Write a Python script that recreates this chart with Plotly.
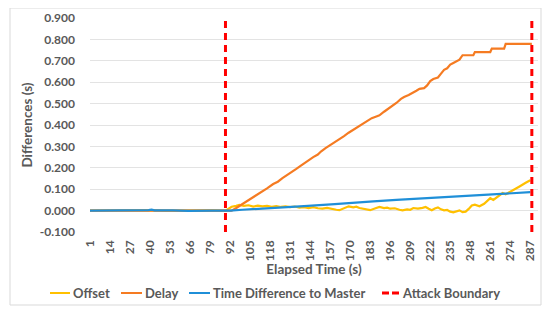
import plotly.graph_objects as go

# ---- data ----
tick_labels = [1, 14, 27, 40, 53, 66, 79, 92, 105, 118, 131, 144, 157, 170, 183, 196,
               209, 222, 235, 248, 261, 274, 287]
y_ticks = [-0.1, 0.0, 0.1, 0.2, 0.3, 0.4, 0.5, 0.6, 0.7, 0.8, 0.9]

offset_t = [1, 10, 20, 30, 40, 50, 60, 70, 80, 89, 91, 93, 96, 98, 101, 104, 107, 110, 113,
            116, 119, 122, 125, 128, 131, 134, 137, 140, 143, 146, 149, 152, 155, 158, 161,
            163, 166, 169, 172, 174, 176, 179, 181, 183, 186, 189, 192, 194, 196, 199, 202,
            204, 207, 209, 211, 214, 217, 219, 221, 223, 225, 227, 229, 231, 233, 235, 237,
            239, 241, 243, 245, 247, 249, 251, 254, 257, 259, 261, 263, 265, 267, 269, 271,
            273, 276, 280, 284, 287]
offset_v = [0.000, 0.001, -0.001, 0.001, 0.002, 0.000, 0.001, -0.001, 0.001, 0.000, 0.008,
            0.018, 0.022, 0.027, 0.022, 0.025, 0.019, 0.023, 0.020, 0.022, 0.018, 0.021,
            0.017, 0.020, 0.016, 0.019, 0.014, 0.016, 0.012, 0.016, 0.011, 0.009, 0.013,
            0.007, 0.004, 0.002, 0.010, 0.020, 0.015, 0.018, 0.012, 0.009, 0.005, 0.002,
            0.010, 0.017, 0.012, 0.014, 0.009, 0.011, 0.004, 0.001, 0.006, 0.004, 0.012,
            0.009, 0.013, 0.017, 0.009, 0.002, 0.010, 0.015, 0.006, 0.001, 0.003, -0.005,
            -0.008, -0.004, 0.001, -0.007, -0.005, 0.008, 0.024, 0.028, 0.020, 0.032, 0.045,
            0.058, 0.050, 0.061, 0.070, 0.082, 0.076, 0.085, 0.095, 0.113, 0.130, 0.142]

delay_t = [1, 92, 93, 96, 100, 104, 108, 112, 116, 120, 123, 126, 129, 132, 135, 138, 141,
           143, 146, 149, 151, 154, 157, 160, 163, 166, 169, 172, 175, 178, 181, 184, 187,
           189, 192, 195, 198, 200, 203, 205, 208, 211, 213, 215, 218, 220, 222, 224, 227,
           229, 231, 233, 235, 237, 239, 241, 243, 250, 251, 261, 262, 270, 271, 288]
delay_v = [0.000, 0.000, 0.000, 0.012, 0.030, 0.047, 0.066, 0.085, 0.104, 0.124, 0.135,
           0.152, 0.165, 0.182, 0.195, 0.210, 0.226, 0.238, 0.250, 0.262, 0.276, 0.292,
           0.305, 0.322, 0.335, 0.348, 0.364, 0.378, 0.394, 0.408, 0.420, 0.432, 0.440,
           0.445, 0.462, 0.477, 0.490, 0.503, 0.522, 0.531, 0.540, 0.550, 0.560, 0.569,
           0.572, 0.585, 0.605, 0.615, 0.622, 0.640, 0.658, 0.665, 0.682, 0.690, 0.697,
           0.705, 0.726, 0.726, 0.741, 0.741, 0.757, 0.757, 0.779, 0.779]

master_t = [1, 15, 25, 39, 41, 43, 55, 65, 80, 92, 100, 108, 120, 140, 160, 170, 185, 200,
            220, 250, 270, 287]
master_v = [0.000, 0.001, -0.001, 0.002, 0.004, 0.001, 0.001, -0.001, 0.000, 0.000, 0.004,
            0.007, 0.012, 0.021, 0.030, 0.034, 0.043, 0.050, 0.058, 0.070, 0.078, 0.086]

attack_t = [89, 288]
y_span = [-0.1, 0.9]

series_names = ["Offset", "Delay", "Time Difference to Master", "Attack Boundary"]
series_colors = ["#FFC000", "#F57B22", "#1F8FD8", "#FF0000"]

# ---- figure ----
TXT = "#595959"
FONT = dict(family="Lato", size=12, color=TXT, weight="bold")
FONT_T = dict(family="Lato", size=13.5, color=TXT, weight="bold")
FONT_L = dict(family="Lato", size=13, color=TXT, weight="bold")

fig = go.Figure()
for name, col, xs, ys in [(series_names[0], series_colors[0], offset_t, offset_v),
                          (series_names[1], series_colors[1], delay_t, delay_v),
                          (series_names[2], series_colors[2], master_t, master_v)]:
    fig.add_trace(go.Scatter(x=xs, y=ys, mode="lines", name=name, showlegend=False,
                             line=dict(color=col, width=2.2)))
bx, by = [], []
for t in attack_t:
    bx += [t, t, None]
    by += [y_span[0], y_span[1], None]
fig.add_trace(go.Scatter(x=bx, y=by, mode="lines", name=series_names[3], showlegend=False,
                         line=dict(color=series_colors[3], width=3, dash="7px,5px")))

# page has an 8px body margin: work in page pixels and shift
OFF = 8
W, H = 550, 320
PL, PR, PT, PB = 90, 538, 18, 232          # plot area in page pixels
L, T = PL - OFF, PT - OFF
R, B = W - (PR - OFF), H - (PB - OFF)
pw, ph = W - L - R, H - T - B

def px_x(p):
    return (p - PL) / pw

def px_y(p):
    return (PB - p) / ph

shapes = [dict(type="rect", xref="paper", yref="paper",
               x0=px_x(10), x1=px_x(541), y0=px_y(305), y1=px_y(8),
               line=dict(color="#D9D9D9", width=1), layer="below")]
annotations = []
# manual legend (bottom, one row)
leg_y = 293
leg_pos = [(50, 70), (121, 142), (189, 210), (382, 399)]
for (x0, x1), name, col in zip(leg_pos, series_names, series_colors):
    is_dash = name == "Attack Boundary"
    shapes.append(dict(type="line", xref="paper", yref="paper",
                       x0=px_x(x0), x1=px_x(x1), y0=px_y(leg_y), y1=px_y(leg_y),
                       line=dict(color=col, width=3 if is_dash else 2,
                                 dash="7px,3px" if is_dash else "solid")))
    annotations.append(dict(xref="paper", yref="paper", x=px_x(x1 + 1), y=px_y(leg_y),
                            xanchor="left", yanchor="middle", text=name, showarrow=False,
                            font=FONT_L))

fig.update_layout(
    width=W, height=H,
    margin=dict(l=L, r=R, t=T, b=B, autoexpand=False),
    paper_bgcolor="white", plot_bgcolor="white",
    font=FONT,
    showlegend=False,
    xaxis=dict(range=[1, 292], tickmode="array", tickvals=tick_labels,
               ticktext=[str(v) for v in tick_labels], tickangle=-90,
               showgrid=False, zeroline=False, showline=False, ticks="",
               ticklabelstandoff=5, automargin=False,
               tickfont=FONT,
               title=dict(text="Elapsed Time (s)", font=FONT_T, standoff=3)),
    yaxis=dict(range=[-0.1, 0.9], tickmode="array", tickvals=y_ticks,
               ticktext=[f"{v:.3f}" for v in y_ticks],
               showgrid=True, gridcolor="#E3E3E3", gridwidth=1,
               zeroline=False, showline=False, ticks="", tickfont=FONT,
               ticklabelstandoff=14, automargin=False,
               title=dict(text="Differences (s)", font=FONT_T, standoff=4)),
    shapes=shapes,
    annotations=annotations,
)

fig.write_html("out.html")
